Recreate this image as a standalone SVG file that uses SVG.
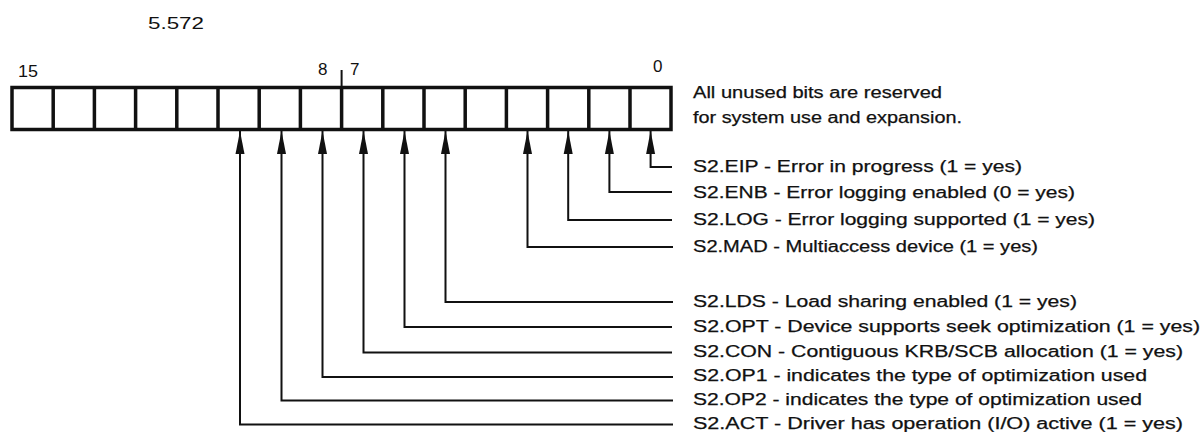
<svg xmlns="http://www.w3.org/2000/svg" width="1204" height="432" viewBox="0 0 1204 432">
<style>
.t{font-family:"Liberation Sans",Arial,sans-serif;font-size:16px;fill:#111;stroke:#111;stroke-width:0.25}
.n{font-family:"Liberation Sans",Arial,sans-serif;font-size:17px;fill:#111}
.cell{fill:#fff;stroke:#111;stroke-width:3.5}
.c{fill:none;stroke:#111;stroke-width:2}
</style>
<defs>
<marker id="ah" markerUnits="userSpaceOnUse" markerWidth="24" markerHeight="10" viewBox="0 0 24 10" refX="23" refY="5" orient="auto-start-reverse">
<path d="M0,0.5 L23,5 L0,9.5 z" fill="#111"/>
</marker>
</defs>
<rect width="1204" height="432" fill="#fff"/>
<text id="title" class="n" x="148" y="29" textLength="56" lengthAdjust="spacingAndGlyphs">5.572</text>
<g id="register">
<rect class="cell" x="12" y="87.5" width="659" height="42"/>
<path class="c" style="stroke-width:3.5" d="M53.2,87.5V129.5M94.4,87.5V129.5M135.6,87.5V129.5M176.8,87.5V129.5M218,87.5V129.5M259.2,87.5V129.5M300.4,87.5V129.5M341.6,87.5V129.5M382.8,87.5V129.5M424,87.5V129.5M465.2,87.5V129.5M506.4,87.5V129.5M547.6,87.5V129.5M588.8,87.5V129.5M630,87.5V129.5"/>
<path class="c" d="M341.6,70V87.5"/>
<text class="n" x="18" y="77" textLength="20" lengthAdjust="spacingAndGlyphs">15</text>
<text class="n" x="318" y="75">8</text>
<text class="n" x="350" y="75">7</text>
<text class="n" x="653" y="72">0</text>
</g>
<g id="note">
<text class="t" x="693" y="98" textLength="249" lengthAdjust="spacingAndGlyphs">All unused bits are reserved</text>
<text class="t" x="693" y="123" textLength="269" lengthAdjust="spacingAndGlyphs">for system use and expansion.</text>
</g>
<g id="connectors">
<path class="c" marker-start="url(#ah)" d="M650.6,131V167H672"/>
<path class="c" marker-start="url(#ah)" d="M609.4,131V192H672"/>
<path class="c" marker-start="url(#ah)" d="M568.2,131V220H672"/>
<path class="c" marker-start="url(#ah)" d="M527.5,131V247H673"/>
<path class="c" marker-start="url(#ah)" d="M445.5,131V302H673"/>
<path class="c" marker-start="url(#ah)" d="M404.5,131V327H672"/>
<path class="c" marker-start="url(#ah)" d="M363.5,131V352.5H672"/>
<path class="c" marker-start="url(#ah)" d="M322.5,131V377H673"/>
<path class="c" marker-start="url(#ah)" d="M281.5,131V400.5H673"/>
<path class="c" marker-start="url(#ah)" d="M240,131V424.5H673"/>
</g>
<g id="eip"><text class="t" x="693" y="172" textLength="329" lengthAdjust="spacingAndGlyphs">S2.EIP - Error in progress (1 = yes)</text></g>
<g id="enb"><text class="t" x="693" y="198" textLength="382" lengthAdjust="spacingAndGlyphs">S2.ENB - Error logging enabled (0 = yes)</text></g>
<g id="log"><text class="t" x="693" y="225" textLength="402" lengthAdjust="spacingAndGlyphs">S2.LOG - Error logging supported (1 = yes)</text></g>
<g id="mad"><text class="t" x="693" y="252" textLength="345" lengthAdjust="spacingAndGlyphs">S2.MAD - Multiaccess device (1 = yes)</text></g>
<g id="lds"><text class="t" x="693" y="307" textLength="384" lengthAdjust="spacingAndGlyphs">S2.LDS - Load sharing enabled (1 = yes)</text></g>
<g id="opt"><text class="t" x="693" y="332" textLength="507" lengthAdjust="spacingAndGlyphs">S2.OPT - Device supports seek optimization (1 = yes)</text></g>
<g id="con"><text class="t" x="693" y="357" textLength="490" lengthAdjust="spacingAndGlyphs">S2.CON - Contiguous KRB/SCB allocation (1 = yes)</text></g>
<g id="op1"><text class="t" x="693" y="381" textLength="454" lengthAdjust="spacingAndGlyphs">S2.OP1 - indicates the type of optimization used</text></g>
<g id="op2"><text class="t" x="693" y="405" textLength="449" lengthAdjust="spacingAndGlyphs">S2.OP2 - indicates the type of optimization used</text></g>
<g id="act"><text class="t" x="693" y="429" textLength="490" lengthAdjust="spacingAndGlyphs">S2.ACT - Driver has operation (I/O) active (1 = yes)</text></g>
</svg>
